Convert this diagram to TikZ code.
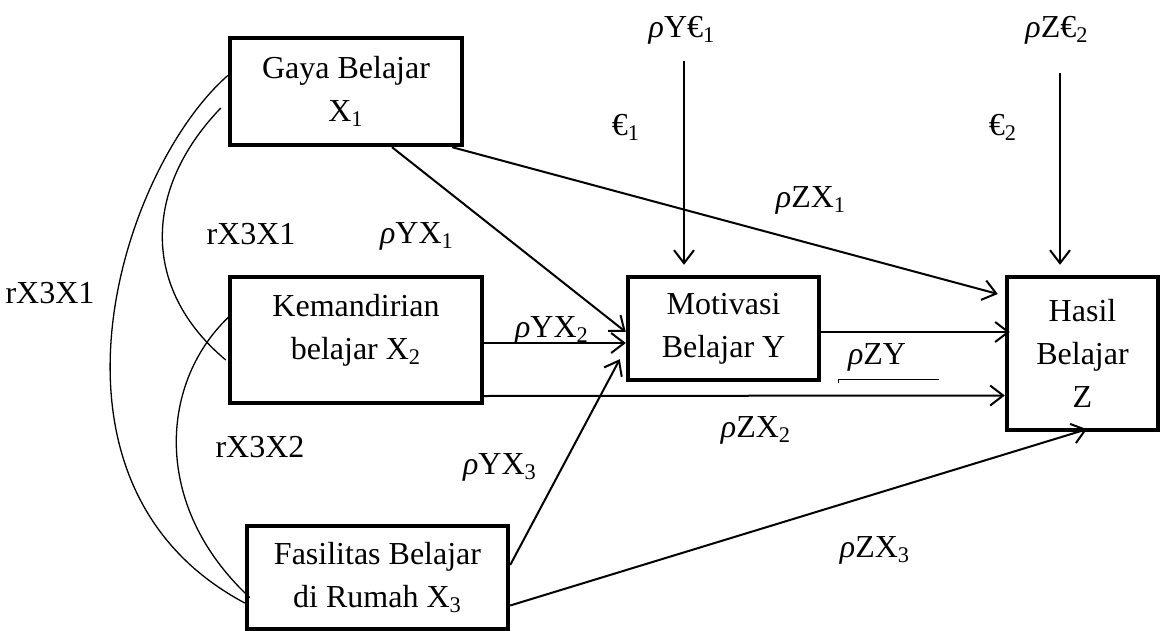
\documentclass[tikz,border=0pt]{standalone}
\usepackage{fontspec}
\setmainfont{Liberation Serif}
\usepackage{tikz}
\usetikzlibrary{arrows.meta}

\newcommand{\rh}{\textit{ρ}}

\begin{document}
\begin{tikzpicture}[x=0.5pt,y=-0.5pt]
          \useasboundingbox (0,0) rectangle (1161,631);
          \tikzset{box/.style = {draw, line width=2.2pt, inner sep=0pt, align=center,
                     font=\fontsize{16}{21.5}\selectfont}};
          \tikzset{lbl/.style = {inner sep=0pt, font=\fontsize{16}{19}\selectfont}};
          \tikzset{arr/.style = {line width=1pt, -{Straight Barb[length=6.5pt,width=10pt,line width=1pt]}}};
          \tikzset{corr/.style = {line width=0.65pt}};

          % variables
          \node[box, minimum width=116pt, minimum height=53.5pt] (X1) at (346,91.5)
               {Gaya Belajar\\X\textsubscript{1}};
          \node[box, minimum width=126pt, minimum height=63pt, text depth=13.5pt] (X2) at (356,340)
               {Kemandirian\\belajar X\textsubscript{2}};
          \node[box, minimum width=130.5pt, minimum height=51.5pt] (X3) at (377.5,577.5)
               {Fasilitas Belajar\\di Rumah X\textsubscript{3}};
          \node[box, minimum width=95.5pt, minimum height=51.5pt] (Y) at (723.5,328.5)
               {Motivasi\\Belajar Y};
          \node[box, minimum width=75.5pt, minimum height=76.5pt] (Z) at (1082.5,353.5)
               {Hasil\\Belajar\\Z};

          % error terms
          \node[lbl] (pe1) at (682,30) {\rh Y€\textsubscript{1}};
          \node[lbl] (pe2) at (1057,30) {\rh Z€\textsubscript{2}};
          \node[lbl] (e1) at (626,127) {€\textsubscript{1}};
          \node[lbl] (e2) at (1003,127) {€\textsubscript{2}};
          \coordinate (tY) at (684,61);
          \coordinate (tZ) at (1060,73);

          % path labels
          \node[lbl] (lZX1) at (811,200) {\rh ZX\textsubscript{1}};
          \node[lbl] (lYX1) at (417,236) {\rh YX\textsubscript{1}};
          \node[lbl] (lYX2) at (552,330) {\rh YX\textsubscript{2}};
          \node[lbl] (lZY) at (877,357) {\rh ZY};
          \node[lbl] (lZX2) at (756,430) {\rh ZX\textsubscript{2}};
          \node[lbl] (lYX3) at (500,467) {\rh YX\textsubscript{3}};
          \node[lbl] (lZX3) at (875,550) {\rh ZX\textsubscript{3}};
          \node[lbl] (r31a) at (251,234) {rX3X1};
          \node[lbl] (r31b) at (50,293) {rX3X1};
          \node[lbl] (r32) at (260,447) {rX3X2};

          % correlations
          \draw[corr] ([yshift=8pt]X1.west) .. controls (120,170) and (21,484) .. ([yshift=-12.75pt]X3.west);
          \draw[corr] ([xshift=-3.5pt,yshift=-8.25pt]X1.west) .. controls (142,190) and (142,290) .. ([xshift=-1pt,yshift=-10pt]X2.west);
          \draw[corr] ([xshift=1.5pt,yshift=12.5pt]X2.west) .. controls (160,380) and (150,505) .. ([xshift=2.5pt,yshift=-10pt]X3.west);

          % paths to Y
          \draw[arr] ([xshift=23pt]X1.south) -- ([yshift=-1.75pt]Y.west);
          \draw[arr] ([yshift=-1.5pt]X2.east) -- ([yshift=-7.25pt]Y.west);
          \draw[arr] ([yshift=6.25pt]X3.east) -- ([xshift=-3pt,yshift=11.5pt]Y.south west);

          % paths to Z
          \draw[arr] ([xshift=-6pt]X1.south east) -- ([xshift=-3.5pt,yshift=29.75pt]Z.west);
          \draw[arr] ([yshift=-1.75pt]Y.east) -- ([xshift=2.5pt,yshift=10.75pt]Z.west);
          \draw[arr] ([yshift=-28pt]X2.east) -- ([yshift=-21pt]Z.west);
          \draw[arr] ([yshift=-14pt]X3.east) -- ([xshift=2.25pt,yshift=1.5pt]Z.south);

          % errors
          \draw[arr, shorten >=5pt] (tY) -- (tY |- Y.north);
          \draw[arr, shorten >=5pt] (tZ) -- (tZ |- Z.north);

          \draw[line width=0.5pt] ([xshift=-19.5pt,yshift=-12.75pt]lZY.center) -- ([xshift=-19.5pt,yshift=-11pt]lZY.center) -- ([xshift=31pt,yshift=-11pt]lZY.center);
        \end{tikzpicture}
\end{document}
